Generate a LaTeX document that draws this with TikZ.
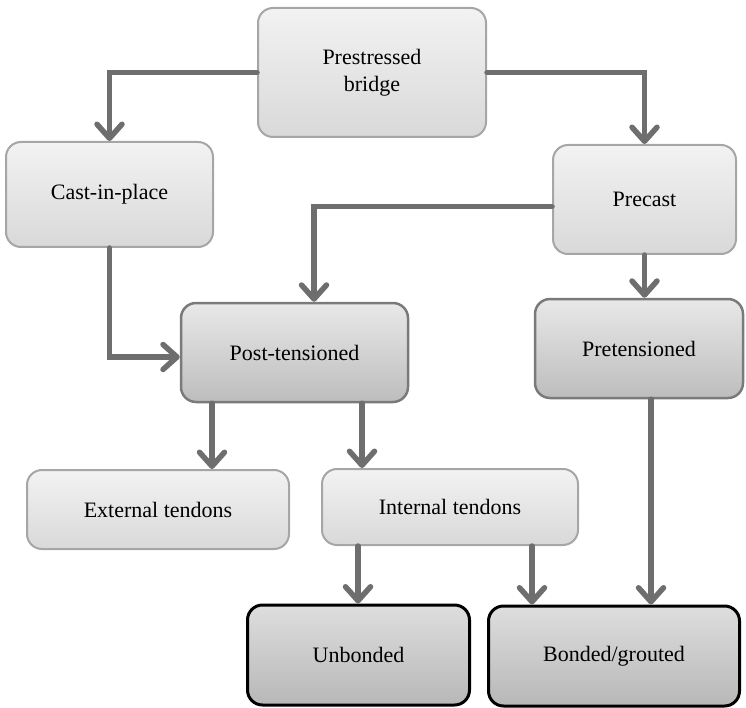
\documentclass[tikz,border=0pt]{standalone}
\usepackage{fontspec}
\setmainfont{Liberation Serif}
\usetikzlibrary{arrows.meta,positioning}

\tikzset{
  box/.style={rectangle,rounded corners=15pt,draw=black!35,line width=2pt,
    top color=black!5,bottom color=black!15,align=center,inner sep=0pt},
  midbox/.style={box,draw=black!52,line width=2.5pt,top color=black!9,bottom color=black!26},
  lowbox/.style={box,draw=black,line width=3pt,top color=black!13,bottom color=black!28},
  link/.style={->,draw=black!57,line width=5.5pt,line cap=round,line join=miter}
}

\begin{document}
\begin{tikzpicture}[x=1pt,y=-1pt,>={Straight Barb[length=14pt,width=25pt,line cap=round,line join=round]},
    font=\fontsize{22}{27}\selectfont]
    \useasboundingbox (0,0) rectangle (746,708);

    \node[box,minimum width=228pt,minimum height=129pt] (prest) at (372,72.5) {Prestressed\\bridge};
    \node[box,minimum width=207pt,minimum height=105pt] (cast) at (109.5,194.5) {Cast-in-place};
    \node[box,minimum width=183pt,minimum height=109pt] (precast) at (644.5,199.5) {Precast};
    \node[midbox,minimum width=227pt,minimum height=99pt] (post) at (294.5,352.5) {Post-tensioned};
    \node[midbox,minimum width=208pt,minimum height=99pt] (pret) at (639,348.5) {Pretensioned};
    \node[box,minimum width=262pt,minimum height=79pt] (ext) at (158,509.5) {External tendons};
    \node[box,minimum width=256pt,minimum height=76pt] (int) at (450,507) {Internal tendons};
    \node[lowbox,minimum width=222pt,minimum height=100pt] (unb) at (358.5,655) {Unbonded};
    \node[lowbox,minimum width=251pt,minimum height=100pt] (bond) at (614,656) {Bonded/grouted};

    % top level
    \draw[link] (prest.west) -| (cast.north);
    \draw[link] (prest.east) -| (precast.north);
    \draw[link] ([yshift=-7pt]precast.west) -| ([xshift=19.5pt]post.north);
    \draw[link] (precast.south) -- (precast.south |- pret.north);
    \draw[link] (cast.south) |- ([yshift=-4.5pt]post.west);

    % tendons
    \draw[link] ([xshift=-82.5pt]post.south) -- ([xshift=-82.5pt]post.south |- ext.north);
    \draw[link] ([xshift=67.5pt]post.south) -- ([xshift=67.5pt]post.south |- int.north);
    \draw[link] ([xshift=-92pt]int.south) -- ([xshift=-92pt]int.south |- unb.north);
    \draw[link] ([xshift=82pt]int.south) -- ([xshift=82pt]int.south |- bond.north);
    \draw[link] ([xshift=12pt]pret.south) -- ([xshift=12pt]pret.south |- bond.north);
\end{tikzpicture}
\end{document}
